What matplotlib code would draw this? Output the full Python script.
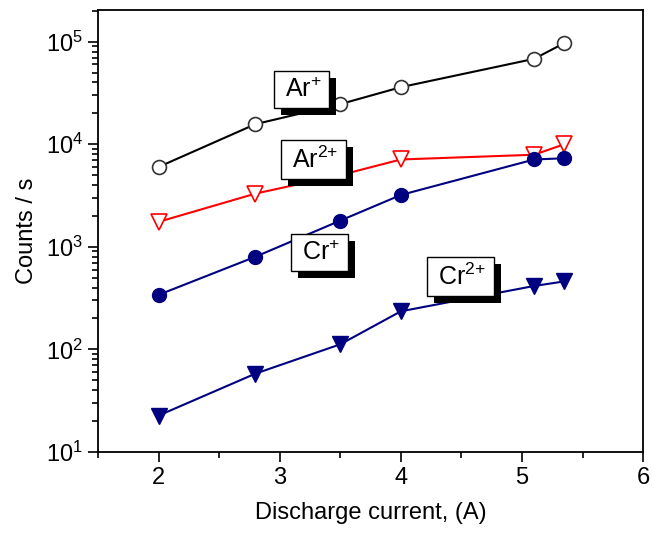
import numpy as np
import matplotlib
matplotlib.use('Agg')
import matplotlib.pyplot as plt
import matplotlib.patheffects as pe
from matplotlib.ticker import LogLocator, MultipleLocator, NullFormatter

plt.rcParams['font.family'] = ['Liberation Sans', 'DejaVu Sans']
plt.rcParams['mathtext.fontset'] = 'custom'
plt.rcParams['mathtext.rm'] = 'Liberation Sans'
plt.rcParams['mathtext.it'] = 'Liberation Sans:italic'
plt.rcParams['mathtext.bf'] = 'Liberation Sans:bold'

# discharge current (A)
current = [2.0, 2.8, 3.5, 4.0, 5.1, 5.35]

ar1 = [6000, 15700, 24600, 36000, 68000, 97000]
ar2 = [1750, 3300, 5000, 7100, 7900, 10000]
cr1 = [340, 800, 1800, 3200, 7100, 7300]
cr2 = [22.6, 58, 112, 235, 415, 460]

labels = ['Ar$^{+}$', 'Ar$^{2{+}}$', 'Cr$^{+}$', 'Cr$^{2{+}}$']
label_pos = [(3.18, 34000), (3.28, 7100), (3.33, 880), (4.49, 510)]

fig = plt.figure(figsize=(6.53, 5.38), dpi=100)
ax = fig.add_axes([0.150, 0.160, 0.835, 0.822])

ax.plot(current, ar1, '-o', color='black', lw=1.5, ms=10, mfc='white', mec='#333333', mew=1.2, zorder=3)
ax.plot(current, ar2, '-v', color='red', lw=1.5, ms=11, mfc='white', mec='red', mew=1.2, zorder=3)
ax.plot(current, cr1, '-o', color='#000080', lw=1.5, ms=10, zorder=3)
ax.plot(current, cr2, '-v', color='#000080', lw=1.5, ms=11, zorder=3)

for lab, (lx, ly) in zip(labels, label_pos):
    t = ax.text(lx, ly, '\u2009' + lab + '\u2009', fontsize=18, ha='center', va='center', zorder=5,
                bbox=dict(boxstyle='square,pad=0.25', fc='white', ec='black', lw=1))
    t.get_bbox_patch().set_path_effects([
        pe.SimplePatchShadow(offset=(5, -5), shadow_rgbFace='black', alpha=1.0),
        pe.Normal()])

ax.set_yscale('log')
ax.set_xlim(1.5, 6)
ax.set_ylim(10, 2.05e5)
ax.xaxis.set_major_locator(MultipleLocator(1))
ax.xaxis.set_minor_locator(MultipleLocator(0.5))
ax.yaxis.set_major_locator(LogLocator(base=10, numticks=10))
ax.yaxis.set_minor_locator(LogLocator(base=10, subs=np.arange(2, 10), numticks=20))
ax.yaxis.set_minor_formatter(NullFormatter())

ax.tick_params(which='both', direction='out', labelsize=17, width=1.2)
ax.tick_params(which='major', length=7)
ax.tick_params(which='minor', length=4)
for s in ax.spines.values():
    s.set_linewidth(1.3)

ax.set_xlabel('Discharge current, (A)', fontsize=17, labelpad=10)
ax.set_ylabel('Counts / s', fontsize=17, labelpad=6)

fig.savefig('out.png', dpi=100)
